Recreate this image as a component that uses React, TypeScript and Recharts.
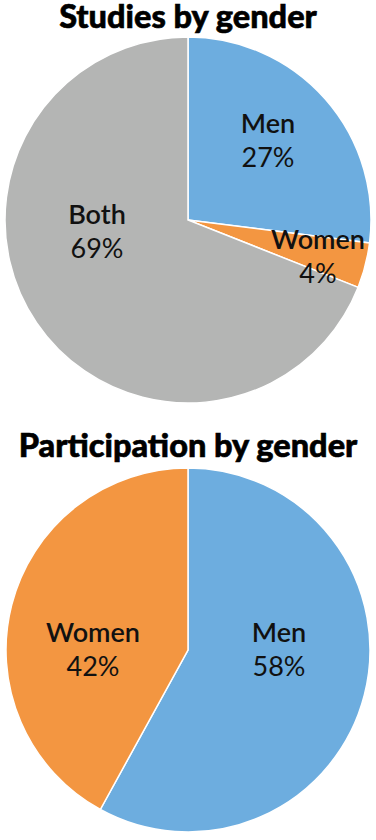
import React from 'react';
import { PieChart, Pie, Cell } from 'recharts';

const studyGroups = ['Men', 'Women', 'Both'];
const studyShares = [27, 4, 69];

const participationGroups = ['Men', 'Women'];
const participationShares = [58, 42];

const COLORS: Record<string, string> = {
  Men: '#6DADDF',
  Women: '#F39641',
  Both: '#B4B5B4',
};

// label anchor (first baseline) offsets from the pie centre, layout only
const studyLabelOffsets = [
  [80, -87],
  [130, 29],
  [-91, 4],
];
const participationLabelOffsets = [
  [91, -8],
  [-95, -8],
];

const FONT = 'Lato, "Open Sans", sans-serif';
const NO_MARGIN = { top: 0, right: 0, bottom: 0, left: 0 };

const studyData = studyGroups.map((name, i) => ({ name, value: studyShares[i] }));
const participationData = participationGroups.map((name, i) => ({ name, value: participationShares[i] }));

const makeLabel = (offsets: number[][]) => (props: any) => {
  const { cx, cy, index, name, value } = props;
  const [dx, dy] = offsets[index];
  const x = cx + dx;
  const y = cy + dy;
  return (
    <g key={`lbl-${index}`}>
      <text x={x} y={y} textAnchor="middle" fontFamily={FONT} fontWeight={600} fontSize={27} fill="#111">
        {name}
      </text>
      <text x={x} y={y + 34} textAnchor="middle" fontFamily={FONT} fontWeight={400} fontSize={27} fill="#111">
        {`${value}%`}
      </text>
    </g>
  );
};

const Title: React.FC<{ top: number; baseline: number; text: string }> = ({ top, baseline, text }) => (
  <svg width={376} height={44} style={{ position: 'absolute', left: 0, top }}>
    <text
      x={188}
      y={baseline - top}
      textAnchor="middle"
      fontFamily={FONT}
      fontWeight={900}
      fontSize={32.5}
      fill="#000"
      stroke="#000"
      strokeWidth={0.6}
    >
      {text}
    </text>
  </svg>
);

export default function App() {
  return (
    <div style={{ position: 'absolute', left: 0, top: 0, width: 376, height: 840, background: '#fff' }}>
      <div style={{ position: 'absolute', left: 0, top: 0 }}>
        <PieChart width={376} height={420} margin={NO_MARGIN}>
          <Pie
            data={studyData}
            dataKey="value"
            nameKey="name"
            cx={188}
            cy={220}
            outerRadius={183}
            startAngle={90}
            endAngle={-270}
            stroke="#fff"
            strokeWidth={1.5}
            labelLine={false}
            label={makeLabel(studyLabelOffsets)}
            isAnimationActive={false}
          >
            {studyData.map((d) => (
              <Cell key={d.name} fill={COLORS[d.name]} />
            ))}
          </Pie>
        </PieChart>
      </div>
      <div style={{ position: 'absolute', left: 0, top: 430 }}>
        <PieChart width={376} height={410} margin={NO_MARGIN}>
          <Pie
            data={participationData}
            dataKey="value"
            nameKey="name"
            cx={188}
            cy={220}
            outerRadius={182}
            startAngle={90}
            endAngle={-270}
            stroke="#fff"
            strokeWidth={1.5}
            labelLine={false}
            label={makeLabel(participationLabelOffsets)}
            isAnimationActive={false}
          >
            {participationData.map((d) => (
              <Cell key={d.name} fill={COLORS[d.name]} />
            ))}
          </Pie>
        </PieChart>
      </div>
      <Title top={0} baseline={28} text="Studies by gender" />
      <Title top={424} baseline={457} text="Participation by gender" />
    </div>
  );
}
